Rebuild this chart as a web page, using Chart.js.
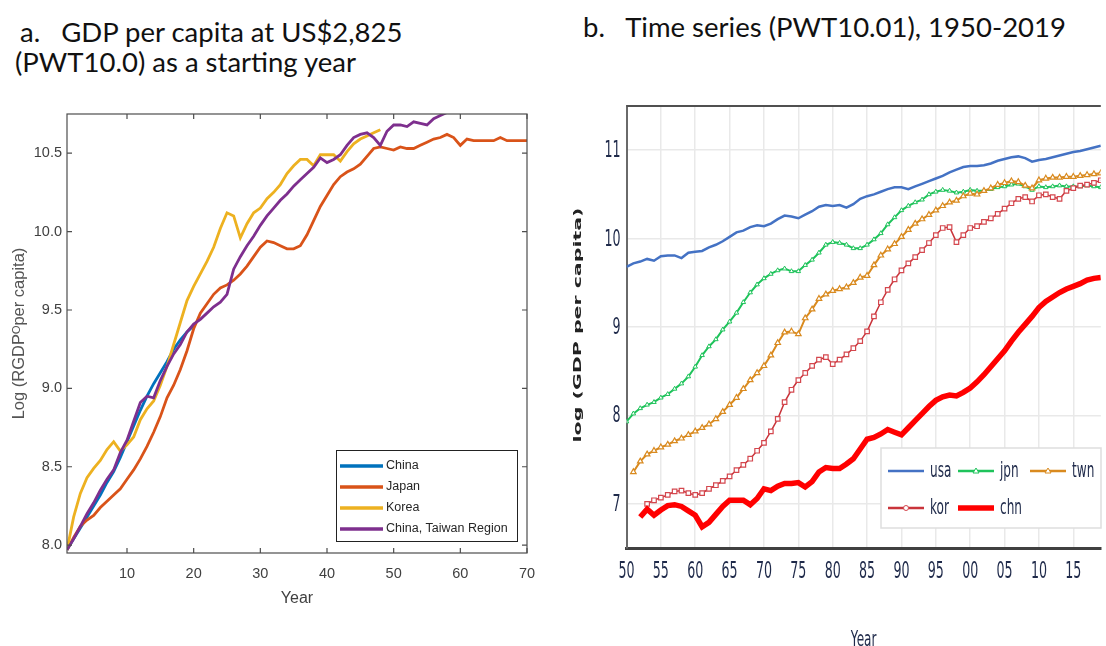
<!DOCTYPE html>
<html>
<head>
<meta charset="utf-8">
<script src="https://cdn.jsdelivr.net/npm/chart.js@4.4.0/dist/chart.umd.min.js"></script>
<style>
  html, body { margin: 0; padding: 0; background: #fff; overflow: hidden; }
  body { width: 1106px; height: 646px; position: relative; }
  .title { position: absolute; font-family: Lato, 'Open Sans', sans-serif; font-size: 27.5px; line-height: 30px; color: #111; white-space: pre; }
  #wrap-a { position: absolute; left: 0; top: 0; width: 560px; height: 646px; }
  #wrap-b { position: absolute; left: 560px; top: 0; width: 546px; height: 660px; }
</style>
</head>
<body>
<div class="title" style="left:20px; top:17px">a.   GDP per capita at US$2,825</div>
<div class="title" style="left:15px; top:47px">(PWT10.0) as a starting year</div>
<div class="title" style="left:583px; top:12px">b.   Time series (PWT10.01), 1950-2019</div>
<div id="wrap-a"><canvas id="chart-a"></canvas></div>
<div id="wrap-b"><canvas id="chart-b"></canvas></div>
<script>
// ---- panel a: years since reaching US$2,825 ----
const yearsSinceStart = Array.from({ length: 70 }, (_, i) => i + 1);
const chinaA = [7.97, 8.04, 8.11, 8.18, 8.25, 8.32, 8.40, 8.47, 8.56, 8.66,
  8.76, 8.86, 8.95, 9.03, 9.10, 9.17, 9.25, 9.31, 9.36, 9.40];
const japanA = [7.97, 8.05, 8.12, 8.16, 8.19, 8.24, 8.28, 8.32, 8.36, 8.42,
  8.48, 8.55, 8.63, 8.72, 8.82, 8.94, 9.02, 9.12, 9.24, 9.38,
  9.48, 9.54, 9.60, 9.64, 9.66, 9.69, 9.73, 9.78, 9.84, 9.90,
  9.94, 9.93, 9.91, 9.89, 9.89, 9.91, 9.98, 10.07, 10.16, 10.23,
  10.30, 10.35, 10.38, 10.40, 10.43, 10.48, 10.53, 10.54, 10.53, 10.52,
  10.54, 10.53, 10.53, 10.55, 10.57, 10.59, 10.60, 10.62, 10.60, 10.55,
  10.59, 10.58, 10.58, 10.58, 10.58, 10.60, 10.58, 10.58, 10.58, 10.58];
const koreaA = [7.97, 8.18, 8.33, 8.43, 8.49, 8.54, 8.61, 8.66, 8.60, 8.64,
  8.69, 8.80, 8.87, 8.92, 9.02, 9.14, 9.28, 9.42, 9.56, 9.65,
  9.73, 9.81, 9.90, 10.02, 10.12, 10.10, 9.96, 10.05, 10.12, 10.15,
  10.21, 10.25, 10.30, 10.37, 10.42, 10.46, 10.46, 10.42, 10.49, 10.49,
  10.49, 10.45, 10.51, 10.56, 10.59, 10.61, 10.63, 10.65];
const taiwanA = [7.97, 8.04, 8.12, 8.20, 8.27, 8.35, 8.42, 8.48, 8.59, 8.67,
  8.79, 8.91, 8.95, 8.94, 9.05, 9.14, 9.22, 9.28, 9.36, 9.41,
  9.44, 9.48, 9.52, 9.55, 9.60, 9.76, 9.84, 9.91, 9.97, 10.04,
  10.10, 10.15, 10.20, 10.24, 10.29, 10.33, 10.37, 10.41, 10.47, 10.44,
  10.46, 10.49, 10.55, 10.60, 10.62, 10.63, 10.60, 10.55, 10.64, 10.68,
  10.68, 10.67, 10.70, 10.69, 10.68, 10.72, 10.74, 10.76];
const xTicksA = [10, 20, 30, 40, 50, 60, 70];
const yTicksA = [8, 8.5, 9, 9.5, 10, 10.5];

// ---- panel b: 1950-2019 ----
const years = Array.from({ length: 70 }, (_, i) => 1950 + i);
const usa = [9.68, 9.72, 9.74, 9.77, 9.75, 9.80, 9.81, 9.81, 9.78, 9.84,
  9.85, 9.86, 9.90, 9.93, 9.97, 10.02, 10.07, 10.09, 10.13, 10.15,
  10.14, 10.17, 10.22, 10.26, 10.25, 10.23, 10.27, 10.31, 10.36, 10.38,
  10.37, 10.38, 10.35, 10.39, 10.45, 10.48, 10.50, 10.53, 10.56, 10.58,
  10.58, 10.56, 10.59, 10.62, 10.65, 10.68, 10.71, 10.75, 10.78, 10.81,
  10.82, 10.82, 10.83, 10.85, 10.88, 10.90, 10.92, 10.93, 10.91, 10.87,
  10.89, 10.90, 10.92, 10.94, 10.96, 10.98, 10.99, 11.01, 11.03, 11.05];
const jpn = [7.93, 8.02, 8.08, 8.12, 8.15, 8.20, 8.24, 8.30, 8.36, 8.44,
  8.55, 8.68, 8.78, 8.86, 8.97, 9.06, 9.16, 9.28, 9.39, 9.48,
  9.55, 9.60, 9.64, 9.66, 9.63, 9.63, 9.70, 9.76, 9.84, 9.93,
  9.96, 9.95, 9.93, 9.89, 9.89, 9.93, 9.99, 10.06, 10.16, 10.24,
  10.32, 10.37, 10.41, 10.44, 10.50, 10.53, 10.55, 10.54, 10.52, 10.53,
  10.55, 10.54, 10.54, 10.56, 10.58, 10.59, 10.61, 10.62, 10.59, 10.55,
  10.59, 10.58, 10.59, 10.60, 10.59, 10.59, 10.59, 10.60, 10.59, 10.58];
const twn = [null, 7.36, 7.48, 7.56, 7.60, 7.64, 7.67, 7.71, 7.74, 7.78,
  7.82, 7.86, 7.90, 7.96, 8.04, 8.12, 8.20, 8.30, 8.40, 8.48,
  8.56, 8.68, 8.82, 8.94, 8.95, 8.92, 9.10, 9.20, 9.32, 9.37,
  9.41, 9.43, 9.45, 9.50, 9.56, 9.58, 9.70, 9.81, 9.88, 9.94,
  10.02, 10.10, 10.17, 10.22, 10.27, 10.32, 10.37, 10.41, 10.43, 10.48,
  10.51, 10.50, 10.54, 10.57, 10.61, 10.63, 10.65, 10.64, 10.60, 10.57,
  10.66, 10.68, 10.69, 10.69, 10.70, 10.70, 10.71, 10.72, 10.73, 10.74];
const kor = [null, null, null, 7.00, 7.04, 7.07, 7.10, 7.14, 7.15, 7.12,
  7.10, 7.12, 7.17, 7.21, 7.26, 7.31, 7.38, 7.44, 7.51, 7.60,
  7.69, 7.82, 7.96, 8.15, 8.29, 8.40, 8.48, 8.56, 8.63, 8.66,
  8.58, 8.63, 8.69, 8.76, 8.84, 8.95, 9.12, 9.28, 9.42, 9.54,
  9.64, 9.72, 9.79, 9.87, 9.95, 10.04, 10.12, 10.13, 9.96, 10.04,
  10.12, 10.14, 10.19, 10.23, 10.28, 10.34, 10.40, 10.45, 10.47, 10.42,
  10.49, 10.50, 10.47, 10.45, 10.54, 10.57, 10.60, 10.61, 10.63, 10.66];
const chn = [null, null, 6.85, 6.94, 6.87, 6.93, 6.98, 6.99, 6.97, 6.92,
  6.87, 6.74, 6.79, 6.88, 6.97, 7.04, 7.04, 7.04, 6.99, 7.06,
  7.17, 7.15, 7.20, 7.23, 7.23, 7.24, 7.19, 7.25, 7.36, 7.41,
  7.40, 7.40, 7.45, 7.51, 7.62, 7.73, 7.75, 7.79, 7.84, 7.81,
  7.78, 7.86, 7.94, 8.02, 8.10, 8.17, 8.21, 8.23, 8.22, 8.26,
  8.31, 8.38, 8.46, 8.55, 8.64, 8.73, 8.84, 8.94, 9.03, 9.12,
  9.22, 9.29, 9.34, 9.39, 9.43, 9.46, 9.49, 9.53, 9.55, 9.56];
const xTicksB = [1950, 1955, 1960, 1965, 1970, 1975, 1980, 1985, 1990, 1995, 2000, 2005, 2010, 2015];
const yTicksB = [7, 8, 9, 10, 11];

const pts = (xs, ys) => ys.map((v, i) => ({ x: xs[i], y: v }));
const arial = "'Liberation Sans', Arial, sans-serif";
const dejavu = "'DejaVu Sans', Verdana, sans-serif";

// box round the axes with inward tick marks on every side
const boxFrame = {
  id: 'boxFrame',
  afterDatasetsDraw(chart) {
    const { ctx, chartArea: a, scales: { x, y } } = chart;
    ctx.save();
    ctx.strokeStyle = '#4d4d4d';
    ctx.lineWidth = 1.2;
    ctx.strokeRect(a.left, a.top, a.right - a.left, a.bottom - a.top);
    ctx.beginPath();
    x.ticks.forEach(t => {
      const px = x.getPixelForValue(t.value);
      ctx.moveTo(px, a.bottom); ctx.lineTo(px, a.bottom - 5);
      ctx.moveTo(px, a.top); ctx.lineTo(px, a.top + 5);
    });
    y.ticks.forEach(t => {
      const py = y.getPixelForValue(t.value);
      ctx.moveTo(a.left, py); ctx.lineTo(a.left + 5, py);
      ctx.moveTo(a.right, py); ctx.lineTo(a.right - 5, py);
    });
    ctx.stroke();
    ctx.restore();
  }
};

const legendA = {
  id: 'legendA',
  afterDraw(chart) {
    const ctx = chart.ctx;
    ctx.save();
    ctx.fillStyle = '#fff';
    ctx.fillRect(336, 450, 181, 91);
    ctx.strokeStyle = '#222';
    ctx.lineWidth = 1;
    ctx.strokeRect(336.5, 450.5, 181, 91);
    ctx.font = '12.5px ' + arial;
    ctx.textBaseline = 'middle';
    chart.data.datasets.forEach((ds, i) => {
      const yy = 466 + i * 21;
      ctx.strokeStyle = ds.borderColor;
      ctx.lineWidth = 3.5;
      ctx.beginPath(); ctx.moveTo(340, yy); ctx.lineTo(383, yy); ctx.stroke();
      ctx.fillStyle = '#262626';
      ctx.fillText(ds.label, 386, yy);
    });
    ctx.restore();
  }
};

new Chart(document.getElementById('chart-a'), {
  type: 'line',
  data: {
    datasets: [
      { label: 'China', data: pts(yearsSinceStart, chinaA), borderColor: '#0072BD', order: 4 },
      { label: 'Japan', data: pts(yearsSinceStart, japanA), borderColor: '#D95319', order: 3 },
      { label: 'Korea', data: pts(yearsSinceStart, koreaA), borderColor: '#EDB120', order: 2 },
      { label: 'China, Taiwan Region', data: pts(yearsSinceStart, taiwanA), borderColor: '#7E2F8E', order: 1 }
    ]
  },
  options: {
    responsive: true,
    maintainAspectRatio: false,
    animation: false,
    layout: { padding: { top: 114, right: 33, left: 7, bottom: 34 } },
    elements: { line: { borderWidth: 2.8, tension: 0 }, point: { radius: 0 } },
    plugins: { legend: { display: false }, tooltip: { enabled: false } },
    scales: {
      x: {
        type: 'linear', min: 1, max: 70,
        afterBuildTicks: s => { s.ticks = xTicksA.map(v => ({ value: v })); },
        afterFit: s => { s.height = 59; },
        grid: { display: false, drawTicks: false },
        border: { display: false },
        ticks: { color: '#404040', font: { family: arial, size: 14.5 }, padding: 12, maxRotation: 0 },
        title: { display: true, text: 'Year', color: '#404040', font: { family: arial, size: 16 }, padding: { top: 0, bottom: 4 } }
      },
      y: {
        min: 7.95, max: 10.75,
        afterBuildTicks: s => { s.ticks = yTicksA.map(v => ({ value: v })); },
        afterFit: s => { s.width = 60; },
        grid: { display: false, drawTicks: false },
        border: { display: false },
        ticks: { color: '#404040', font: { family: arial, size: 14.5 }, padding: 5 },
        title: { display: true, text: 'Log (RGDP\u1D3Cper capita)', color: '#555', font: { family: arial, size: 16.5 }, padding: { top: 3, bottom: 0 } }
      }
    }
  },
  plugins: [boxFrame, legendA]
});

// ---- panel b text is set in a narrow face: glyphs are squeezed sideways ----
const squeeze = 0.55;
const inkB = '#1f2a4a';
function narrowText(ctx, text, px, py) {
  ctx.save();
  ctx.translate(px, py);
  ctx.scale(squeeze, 1);
  ctx.fillText(text, 0, 0);
  ctx.restore();
}

// top frame line, tick labels and axis titles of panel b
const axesB = {
  id: 'axesB',
  afterDatasetsDraw(chart) {
    const { ctx, chartArea: a, scales: { x, y } } = chart;
    ctx.save();
    ctx.strokeStyle = '#505050';
    ctx.lineWidth = 2;
    ctx.beginPath(); ctx.moveTo(a.left, a.top); ctx.lineTo(a.right, a.top); ctx.stroke();

    ctx.fillStyle = inkB;
    ctx.font = '23px ' + dejavu;
    ctx.textBaseline = 'middle';
    ctx.textAlign = 'center';
    x.ticks.forEach(t => narrowText(ctx, String(t.value).slice(2), x.getPixelForValue(t.value), a.bottom + 24));
    ctx.textAlign = 'right';
    y.ticks.forEach(t => narrowText(ctx, String(t.value), a.left - 6, y.getPixelForValue(t.value) + 1));

    ctx.font = '22px ' + dejavu;
    ctx.textAlign = 'center';
    narrowText(ctx, 'Year', (a.left + a.right) / 2, a.bottom + 92);

    // rotated title: the squeeze runs across the glyphs
    ctx.fillStyle = '#222';
    ctx.font = 'bold 20.5px ' + dejavu;
    ctx.translate(18.5, (a.top + a.bottom) / 2 - 2);
    ctx.rotate(-Math.PI / 2);
    ctx.scale(1, squeeze);
    ctx.fillText('log (GDP per capita)', 0, 0);
    ctx.restore();
  }
};

const legendB = {
  id: 'legendB',
  afterDraw(chart) {
    const ctx = chart.ctx;
    const slots = [[328, 471], [398, 471], [470, 471], [328, 508], [398, 508]];
    ctx.save();
    ctx.fillStyle = '#fff';
    ctx.fillRect(321, 448, 220, 80);
    ctx.strokeStyle = '#dedede';
    ctx.lineWidth = 1.5;
    ctx.strokeRect(321, 448, 220, 80);
    ctx.font = '22px ' + dejavu;
    ctx.textBaseline = 'middle';
    ctx.textAlign = 'left';
    chart.data.datasets.forEach((ds, i) => {
      const [lx, ly] = slots[i];
      ctx.strokeStyle = ds.borderColor;
      ctx.lineWidth = Math.max(ds.borderWidth, 2.5);
      ctx.beginPath(); ctx.moveTo(lx, ly); ctx.lineTo(lx + 36, ly); ctx.stroke();
      if (ds.pointRadius) {
        ctx.lineWidth = 1;
        ctx.fillStyle = '#fff';
        ctx.strokeStyle = ds.pointBorderColor;
        ctx.beginPath();
        if (ds.pointStyle === 'triangle') {
          ctx.moveTo(lx + 18, ly - 3); ctx.lineTo(lx + 21, ly + 2); ctx.lineTo(lx + 15, ly + 2); ctx.closePath();
        } else {
          ctx.arc(lx + 18, ly, 2.5, 0, Math.PI * 2);
        }
        ctx.fill(); ctx.stroke();
      }
      ctx.fillStyle = inkB;
      narrowText(ctx, ds.label, lx + 42, ly);
    });
    ctx.restore();
  }
};

new Chart(document.getElementById('chart-b'), {
  type: 'line',
  data: {
    datasets: [
      { label: 'usa', data: pts(years, usa), borderColor: '#4472C4', borderWidth: 2.5, pointRadius: 0, order: 5 },
      { label: 'jpn', data: pts(years, jpn), borderColor: '#1FC35B', borderWidth: 2, pointStyle: 'triangle', pointRadius: 2.6,
        pointBackgroundColor: '#fff', pointBorderColor: '#1FC35B', pointBorderWidth: 1, order: 4 },
      { label: 'twn', data: pts(years, twn), borderColor: '#D98A1F', borderWidth: 2, pointStyle: 'triangle', pointRadius: 3.2,
        pointBackgroundColor: '#fff', pointBorderColor: '#D98A1F', pointBorderWidth: 1.2, order: 3 },
      { label: 'kor', data: pts(years, kor), borderColor: '#C9343B', borderWidth: 1.5, pointStyle: 'rect', pointRadius: 3.2,
        pointBackgroundColor: '#fff', pointBorderColor: '#D4474E', pointBorderWidth: 1.2, order: 2 },
      { label: 'chn', data: pts(years, chn), borderColor: '#FF0000', borderWidth: 5.5, pointRadius: 0, order: 1 }
    ]
  },
  options: {
    responsive: true,
    maintainAspectRatio: false,
    animation: false,
    layout: { padding: { top: 106, right: 0, left: 4, bottom: 10 } },
    elements: { line: { tension: 0 } },
    plugins: { legend: { display: false }, tooltip: { enabled: false } },
    scales: {
      x: {
        type: 'linear', min: 1950, max: 2019,
        afterBuildTicks: s => { s.ticks = xTicksB.map(v => ({ value: v })); },
        afterFit: s => { s.height = 102; },
        grid: { color: '#e9e9e9', lineWidth: 1.5, drawTicks: false },
        border: { color: '#404040', width: 3 },
        ticks: { display: false }
      },
      y: {
        min: 6.5, max: 11.5,
        afterBuildTicks: s => { s.ticks = yTicksB.map(v => ({ value: v })); },
        afterFit: s => { s.width = 62.5; },
        grid: { color: '#e9e9e9', lineWidth: 1.5, drawTicks: false },
        border: { color: '#6a6a6a', width: 2 },
        ticks: { display: false }
      }
    }
  },
  plugins: [axesB, legendB]
});
</script>
</body>
</html>
